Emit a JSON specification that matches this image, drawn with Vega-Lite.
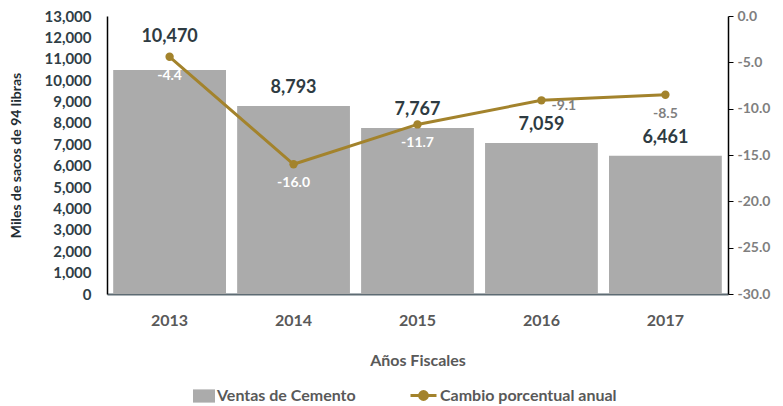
{
  "$schema": "https://vega.github.io/schema/vega-lite/v6.json",
  "width": 621,
  "height": 278,
  "autosize": {"type": "none"},
  "padding": {"left": 107, "top": 16, "right": 55, "bottom": 112},
  "background": "white",
  "config": {
    "font": "Lato",
    "locale": {"number": {"decimal": ".", "thousands": ",", "grouping": [3], "currency": ["$", ""], "minus": "-"}},
    "view": {"stroke": null},
    "axis": {"grid": false, "labelFont": "Lato", "titleFont": "Lato", "labelFontWeight": "bold", "titleFontWeight": "bold"}
  },
  "data": {
    "values": [
      {"year": "2013", "ventas": 10470, "cambio": -4.4},
      {"year": "2014", "ventas": 8793, "cambio": -16.0},
      {"year": "2015", "ventas": 7767, "cambio": -11.7},
      {"year": "2016", "ventas": 7059, "cambio": -9.1},
      {"year": "2017", "ventas": 6461, "cambio": -8.5}
    ]
  },
  "encoding": {
    "x": {
      "field": "year",
      "type": "ordinal",
      "scale": {"paddingInner": 0.09, "paddingOuter": 0.05},
      "axis": {
        "title": "Años Fiscales",
        "labelAngle": 0,
        "labelFontSize": 16,
        "labelColor": "#595959",
        "labelPadding": 18,
        "ticks": false,
        "domainColor": "#5d6b73",
        "domainWidth": 2,
        "titleFontSize": 16,
        "titleColor": "#595959",
        "titlePadding": 24
      }
    }
  },
  "layer": [
    {
      "encoding": {
        "y": {
          "field": "ventas",
          "type": "quantitative",
          "scale": {"domain": [0, 13000], "nice": false},
          "axis": {
            "title": "Miles de sacos de 94 libras",
            "values": [0, 1000, 2000, 3000, 4000, 5000, 6000, 7000, 8000, 9000, 10000, 11000, 12000, 13000],
            "format": ",d",
            "labelOverlap": false,
            "ticks": false,
            "domainColor": "#000000",
            "domainWidth": 1.5,
            "labelFontSize": 15,
            "labelColor": "#2F3E46",
            "labelPadding": 16,
            "titleFontSize": 14,
            "titleColor": "#1F2D33",
            "titlePadding": 20
          }
        }
      },
      "layer": [
        {
          "mark": {"type": "bar", "color": "#ABABAB"},
          "encoding": {
            "color": {
              "datum": "Ventas de Cemento",
              "type": "nominal",
              "scale": {"range": ["#ABABAB"]},
              "legend": {
                "title": null,
                "orient": "none",
                "legendX": 86,
                "legendY": 369,
                "symbolType": "M-1,-0.6H1V0.6H-1Z",
                "symbolSize": 484,
                "symbolStrokeWidth": 0,
                "labelFontSize": 16,
                "labelFont": "Lato",
                "labelFontWeight": "bold",
                "labelColor": "#595959",
                "labelOffset": 2,
                "labelLimit": 300
              }
            }
          }
        },
        {
          "transform": [{"filter": "datum.year != '2013'"}],
          "mark": {"type": "text", "baseline": "bottom", "dy": -9, "fontSize": 18, "fontWeight": "bold", "color": "#2E3B42"},
          "encoding": {
            "text": {"field": "ventas", "type": "quantitative", "format": ",d"}
          }
        },
        {
          "transform": [{"filter": "datum.year == '2013'"}],
          "mark": {"type": "text", "baseline": "bottom", "dy": -24, "fontSize": 18, "fontWeight": "bold", "color": "#2E3B42"},
          "encoding": {
            "text": {"field": "ventas", "type": "quantitative", "format": ",d"}
          }
        }
      ]
    },
    {
      "encoding": {
        "y": {
          "field": "cambio",
          "type": "quantitative",
          "scale": {"domain": [-30, 0], "nice": false},
          "axis": {
            "orient": "right",
            "title": null,
            "values": [0, -5, -10, -15, -20, -25, -30],
            "format": ".1f",
            "labelOverlap": false,
            "ticks": true,
            "tickSize": 5,
            "tickColor": "#000000",
            "domainColor": "#000000",
            "domainWidth": 1.5,
            "labelFontSize": 14,
            "labelColor": "#7F7F7F",
            "labelPadding": 4
          }
        }
      },
      "layer": [
        {
          "mark": {"type": "line", "strokeWidth": 3, "point": {"size": 70, "filled": true}},
          "encoding": {
            "color": {
              "datum": "Cambio porcentual anual",
              "type": "nominal",
              "scale": {"range": ["#A3832C"]},
              "legend": {
                "title": null,
                "orient": "none",
                "legendX": 302,
                "legendY": 365,
                "symbolType": "M-1,0H1M0.3,0A0.3,0.3 0 1,1 -0.3,0A0.3,0.3 0 1,1 0.3,0Z",
                "symbolSize": 676,
                "symbolStrokeWidth": 3,
                "symbolFillColor": "#A3832C",
                "symbolStrokeColor": "#A3832C",
                "labelFontSize": 16,
                "labelFont": "Lato",
                "labelFontWeight": "bold",
                "labelColor": "#595959",
                "labelOffset": 2,
                "labelLimit": 300
              }
            }
          }
        },
        {
          "transform": [{"filter": "datum.year != '2016'"}],
          "mark": {"type": "text", "baseline": "top", "dy": 12, "fontSize": 14, "fontWeight": "bold"},
          "encoding": {
            "text": {"field": "cambio", "type": "quantitative", "format": ".1f"},
            "color": {
              "condition": {"test": "datum.year >= '2016'", "value": "#7F7F7F"},
              "value": "#FFFFFF"
            }
          }
        },
        {
          "transform": [{"filter": "datum.year == '2016'"}],
          "mark": {"type": "text", "baseline": "middle", "align": "left", "dx": 10, "dy": 6, "fontSize": 14, "fontWeight": "bold", "color": "#7F7F7F"},
          "encoding": {
            "text": {"field": "cambio", "type": "quantitative", "format": ".1f"}
          }
        }
      ]
    }
  ],
  "resolve": {"scale": {"y": "independent", "color": "independent"}}
}
